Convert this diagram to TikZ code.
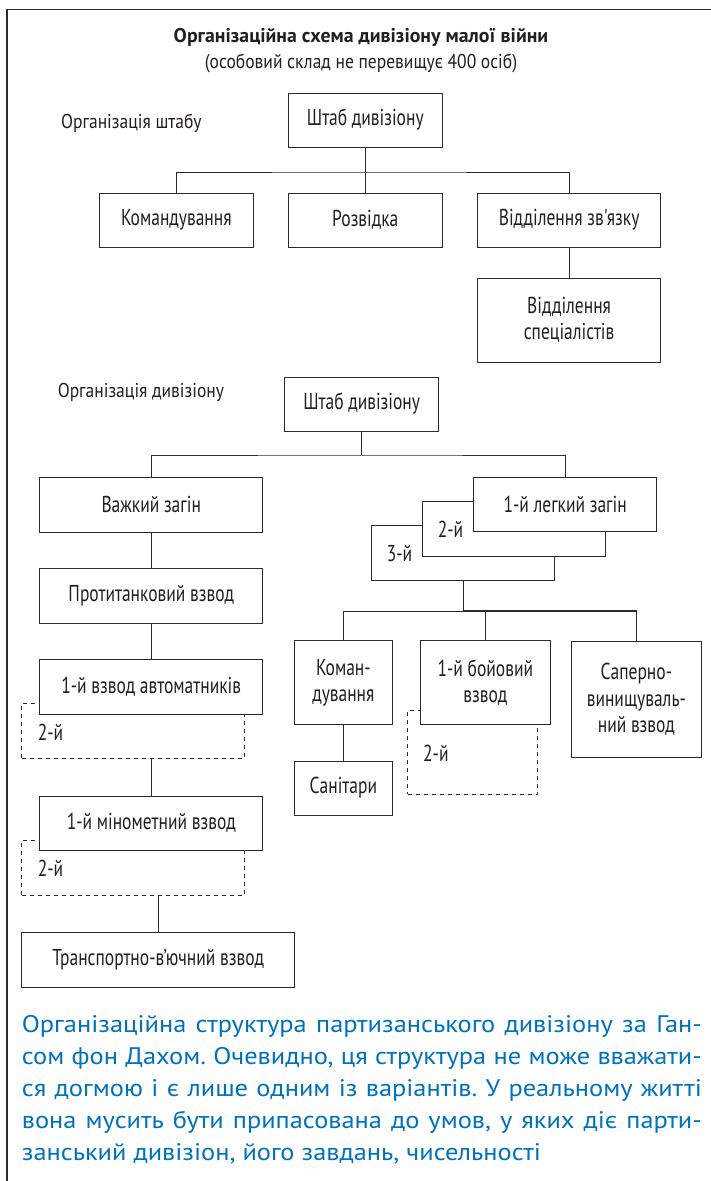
\documentclass[tikz,border=0pt]{standalone}
\usepackage{fontspec}
\setmainfont{PT Sans}
\newfontfamily\condfont[FakeStretch=0.76]{PT Sans}
\newfontfamily\condplain[FakeStretch=0.76,Ligatures=TeXOff]{PT Sans}
\newfontfamily\sidefont[FakeStretch=0.875]{PT Sans}
\newfontfamily\capfont[FakeStretch=1.1]{PT Sans}
\definecolor{linec}{HTML}{2B2B2B}
\definecolor{txtc}{HTML}{231F20}
\definecolor{capc}{RGB}{0,114,188}
\tikzset{
  box/.style={draw=linec, line width=1pt, fill=white, inner sep=0pt, align=center, text=txtc,
    font=\condfont\fontsize{23}{26.5}\selectfont},
  dbox/.style={draw=linec, line width=1pt, dash pattern=on 4pt off 4pt, inner sep=0pt},
  lbl/.style={inner sep=0pt, text=txtc, font=\condfont\fontsize{23}{26.5}\selectfont},
  side/.style={inner sep=0pt, text=txtc, anchor=base west, font=\sidefont\fontsize{20}{24}\selectfont},
  conn/.style={draw=linec, line width=1pt},
  capline/.style={inner sep=0pt, anchor=base west, text=capc, font=\capfont\fontsize{24}{32}\selectfont\frenchspacing},
}
\begin{document}
\begin{tikzpicture}[x=1pt,y=-1pt]
\path[use as bounding box, fill=white] (0,0) rectangle (711,1181);
% frame
\draw[line width=1.5pt, linec] (6.8,1181) -- (6.8,9.3) -- (711,9.3);

% titles
\node[inner sep=0pt, anchor=base, text=txtc, font=\bfseries\fontsize{19.8}{23}\selectfont] (title) at (361,42.5) {Організаційна схема дивізіону малої війни};
\node[inner sep=0pt, anchor=base, text=txtc, font=\sidefont\fontsize{20}{23}\selectfont] (subtitle) at (361,68.5) {(особовий склад не перевищує 400 осіб)};
\node[side] (orgstab) at (61,128) {Організація штабу};
\node[side] (orgdiv) at (57.6,397.3) {Організація дивізіону};

% ---- staff organisation
\node[box, minimum width=153.8pt, minimum height=54pt] (hq1) at (365.3,120) {Штаб дивізіону};
\node[box, minimum width=153.2pt, minimum height=54pt] (cmd1) at (176.4,220) {Командування};
\node[box, minimum width=153.8pt, minimum height=54pt] (rec) at (365.3,220) {Розвідка};
\node[box, minimum width=183.2pt, minimum height=54pt] (sig) at (569.1,220) {Відділення зв{\condplain\fontsize{23}{26.5}\selectfont'}язку};
\node[box, minimum width=183.2pt, minimum height=84pt] (spec) at (569.1,320) {Відділення\\спеціалістів};
\coordinate (bus1) at (365.3,172);
\draw[conn] (hq1) -- (rec);
\draw[conn] (cmd1.north) |- (bus1) -| (sig.north);
\draw[conn] (sig) -- (spec);

% ---- division organisation
\node[box, minimum width=153.7pt, minimum height=54pt] (hq2) at (361.7,404) {Штаб дивізіону};
\node[box, minimum width=222.7pt, minimum height=55pt] (heavy) at (151.25,504.5) {Важкий загін};
\node[box, minimum width=183pt, minimum height=54.3pt] (l3) at (463.2,552.9) {};
\node[box, minimum width=183pt, minimum height=54.3pt] (l2) at (513.8,528.9) {};
\node[box, minimum width=183pt, minimum height=54.4pt] (l1) at (565.2,504.5) {1-й легкий загін};
\node[lbl, anchor=base west] (l2t) at (437.7,537.3) {2-й};
\node[lbl, anchor=base west] (l3t) at (386.7,561.7) {3-й};
\coordinate (bus2) at (361.7,455);
\draw[conn] (hq2) -- (bus2);
\draw[conn] (heavy.north) |- (bus2) -| (l1.north);

% left column
\node[box, minimum width=222.7pt, minimum height=55pt] (at) at (151.25,595.5) {Протитанковий взвод};
\node[dbox, minimum width=223.1pt, minimum height=55pt] (aut2) at (133.35,730.5) {};
\node[box, minimum width=222.7pt, minimum height=55pt] (aut1) at (151.25,686.5) {1-й взвод автоматників};
\node[lbl, anchor=base west] (aut2t) at (37.6,740) {2-й};
\node[dbox, minimum width=223.1pt, minimum height=55pt] (mor2) at (133.35,867.5) {};
\node[box, minimum width=222.7pt, minimum height=54pt] (mor1) at (151.25,823) {1-й мінометний взвод};
\node[lbl, anchor=base west] (mor2t) at (37.6,876.7) {2-й};
\node[box, minimum width=273pt, minimum height=54.6pt] (trans) at (158.2,960) {Транспортно-в’ючний взвод};
\draw[conn] (heavy) -- (at);
\draw[conn] (at) -- (aut1);
\draw[conn] (aut2.south -| mor1.north) -- (mor1.north);
\draw[conn] (mor2.south -| trans.north) -- (trans.north);

% right column
\node[box, minimum width=98.2pt, minimum height=83.3pt] (cmd2) at (343.4,682.6) {Коман-\\дування};
\node[box, minimum width=98.2pt, minimum height=54pt] (san) at (343.4,788) {Санітари};
\node[dbox, minimum width=129.5pt, minimum height=83.8pt] (b2) at (472.25,752.4) {};
\node[box, minimum width=129.3pt, minimum height=83.3pt] (b1) at (485.35,682.6) {1-й бойовий\\взвод};
\node[lbl, anchor=base west] (b2t) at (423,761.7) {2-й};
\node[box, minimum width=129.3pt, minimum height=116.7pt] (sap) at (636.35,699.35) {Саперно-\\винищуваль-\\ний взвод};
\coordinate (bus3) at (463.2,611);
\draw[conn, line width=1.4pt] (l3) -- (bus3);
\draw[conn] (cmd2.north) |- (bus3);
\draw[conn, line width=1.4pt] (bus3) -| (sap.north);
\draw[conn] (bus3 -| b1.north) -- (b1.north);
\draw[conn] (cmd2) -- (san);

% caption
\node[capline] (c1) at (21.7,1032) {\makebox[680pt][s]{Організаційна структура партизанського дивізіону за Ган-}};
\node[capline] (c2) at (21.7,1064) {\makebox[680pt][s]{сом фон Дахом. Очевидно, ця структура не може вважати-}};
\node[capline] (c3) at (21.7,1096) {\makebox[680pt][s]{ся догмою і є лише одним із варіантів. У реальному житті}};
\node[capline] (c4) at (21.7,1128) {\makebox[680pt][s]{вона мусить бути припасована до умов, у яких діє парти-}};
\node[capline] (c5) at (21.7,1160) {занський дивізіон, його завдань, чисельності};
\end{tikzpicture}
\end{document}
